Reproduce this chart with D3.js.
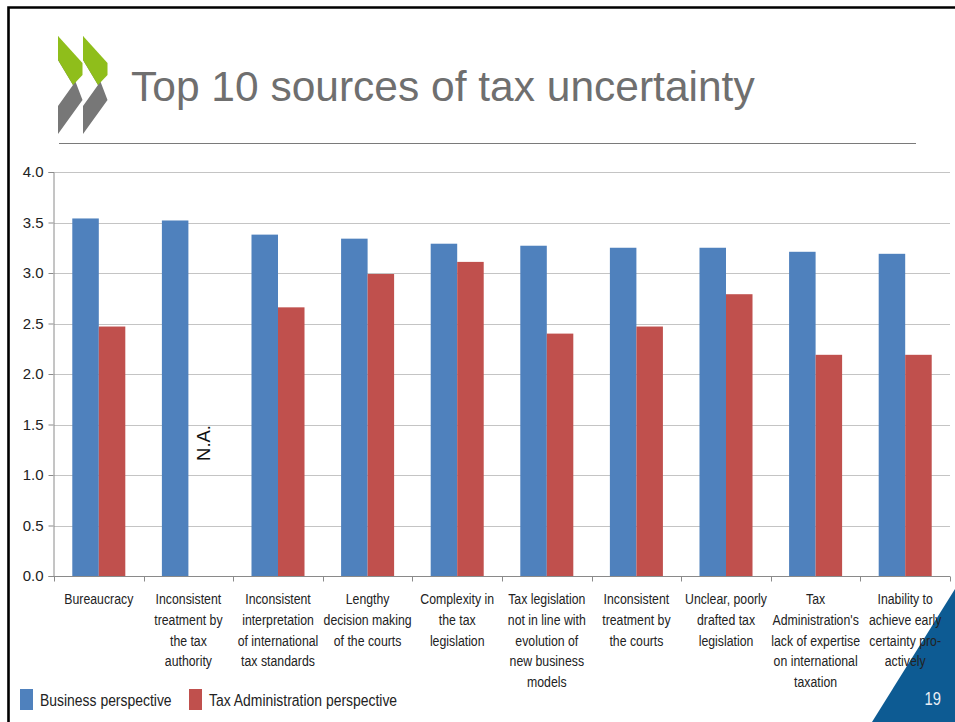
<!DOCTYPE html>
<html>
<head>
<meta charset="utf-8">
<script src="https://cdn.jsdelivr.net/npm/d3@7"></script>
<style>
  html, body { margin: 0; padding: 0; background: #ffffff; }
  svg { display: block; }
</style>
</head>
<body>
<svg id="slide" width="955" height="722"></svg>
<script>
// Survey scores (0-4) for the top 10 sources of tax uncertainty
const categories = [
  "Bureaucracy",
  "Inconsistent\ntreatment by\nthe tax\nauthority",
  "Inconsistent\ninterpretation\nof international\ntax standards",
  "Lengthy\ndecision making\nof the courts",
  "Complexity in\nthe tax\nlegislation",
  "Tax legislation\nnot in line with\nevolution of\nnew business\nmodels",
  "Inconsistent\ntreatment by\nthe courts",
  "Unclear, poorly\ndrafted tax\nlegislation",
  "Tax\nAdministration's\nlack of expertise\non international\ntaxation",
  "Inability to\nachieve early\ncertainty pro-\nactively"
];
const seriesNames = ["Business perspective", "Tax Administration perspective"];
const businessValues = [3.54, 3.52, 3.38, 3.34, 3.29, 3.27, 3.25, 3.25, 3.21, 3.19];
// null = not available (no tax administration score for that item)
const taxAdminValues = [2.47, null, 2.66, 2.99, 3.11, 2.40, 2.47, 2.79, 2.19, 2.19];
const yTicks = [0.0, 0.5, 1.0, 1.5, 2.0, 2.5, 3.0, 3.5, 4.0];
const colors = ["#4f81bd", "#c0504d"];
const naLabel = "N.A.";
const titleText = "Top 10 sources of tax uncertainty";
const pageNumber = "19";

const SANS = "'Liberation Sans', Arial, sans-serif";
const NARROW = 0.82; // horizontal squeeze for the condensed body text

const svg = d3.select("#slide");

// Condensed text helper: places a (possibly multi-line) label squeezed horizontally
function narrowText(parent, px, py, lines, size, anchor, fill, lineGap) {
  const t = parent.append("text")
    .attr("transform", `translate(${px},${py}) scale(${NARROW},1)`)
    .attr("text-anchor", anchor)
    .attr("font-family", SANS)
    .attr("font-size", size)
    .attr("fill", fill);
  lines.forEach((line, k) => {
    t.append("tspan")
      .attr("x", 0)
      .attr("dy", k === 0 ? 0 : lineGap)
      .text(line);
  });
  return t;
}

// Corner accent triangle (behind everything)
svg.append("path")
  .attr("d", "M872,722 L955,589 L955,722 Z")
  .attr("fill", "#0d5b93");

// Slide frame (left and top edges visible)
svg.append("path")
  .attr("d", "M8.5,722 L8.5,7.5 L955,7.5")
  .attr("fill", "none")
  .attr("stroke", "#000")
  .attr("stroke-width", 2.6);

// Double-chevron logo: green upper arm, grey lower arm
function chevron(x0) {
  const x1 = x0 + 24.5;
  const g = svg.append("g");
  g.append("path")
    .attr("d", `M${x0},36 L${x1},100 L${x0},134 L${x0},106 L${x0 + 15},85 L${x0},60 Z`)
    .attr("fill", "#777777");
  g.append("path")
    .attr("d", `M${x0},36 L${x1},63 L${x1},75 L${x0 + 15},85 L${x0},60 Z`)
    .attr("fill", "#8fbe1b");
}
chevron(58);
chevron(83);

svg.append("text")
  .attr("x", 131)
  .attr("y", 101)
  .attr("font-family", SANS)
  .attr("font-size", 42.5)
  .attr("fill", "#6f6f6f")
  .text(titleText);

svg.append("line")
  .attr("x1", 59).attr("x2", 916)
  .attr("y1", 143.5).attr("y2", 143.5)
  .attr("stroke", "#7a7a7a").attr("stroke-width", 1);

// Chart
const x = d3.scaleBand().domain(d3.range(categories.length)).range([54, 950]).padding(0);
const xSub = d3.scaleBand().domain(seriesNames).range([0, x.bandwidth()]).paddingInner(0).paddingOuter(0.69);
const y = d3.scaleLinear().domain([0, 4]).range([576, 172]);

// Gridlines
svg.append("g")
  .selectAll("line")
  .data(yTicks.filter(t => t > 0))
  .join("line")
  .attr("x1", 54).attr("x2", 950)
  .attr("y1", d => Math.round(y(d)) + 0.5).attr("y2", d => Math.round(y(d)) + 0.5)
  .attr("stroke", "#c4c4c4").attr("stroke-width", 1.2);

// Bars
const rows = categories.map((c, i) => ({ i, vals: [businessValues[i], taxAdminValues[i]] }));
const groups = svg.append("g").selectAll("g")
  .data(rows)
  .join("g")
  .attr("transform", d => `translate(${x(d.i)},0)`);
groups.selectAll("rect")
  .data(d => d.vals.map((v, k) => ({ v, k })).filter(e => e.v !== null))
  .join("rect")
  .attr("x", e => xSub(seriesNames[e.k]))
  .attr("width", xSub.bandwidth())
  .attr("y", e => y(e.v))
  .attr("height", e => y(0) - y(e.v))
  .attr("fill", e => colors[e.k]);

// N.A. marker for the missing value
const naIdx = taxAdminValues.findIndex(v => v === null);
const naX = x(naIdx) + xSub(seriesNames[1]) + xSub.bandwidth() / 2 + 8;
svg.append("text")
  .attr("transform", `translate(${naX},443) rotate(-90)`)
  .attr("text-anchor", "middle")
  .attr("font-family", SANS)
  .attr("font-size", 18.5)
  .attr("fill", "#111")
  .text(naLabel);

// Y axis
const yAxis = svg.append("g")
  .attr("transform", "translate(53.5,0)")
  .call(d3.axisLeft(y).tickValues(yTicks).tickFormat(d3.format(".1f")).tickSize(5).tickPadding(5));
yAxis.select(".domain").attr("stroke", "#8a8a8a");
yAxis.selectAll(".tick line").attr("stroke", "#8a8a8a");
yAxis.selectAll(".tick text")
  .attr("font-family", SANS)
  .attr("font-size", 15)
  .attr("fill", "#222");

// X axis with category boundary ticks
const xAxisG = svg.append("g").attr("transform", "translate(0,576.5)");
xAxisG.append("line")
  .attr("x1", 53.5).attr("x2", 950)
  .attr("stroke", "#8a8a8a");
xAxisG.selectAll("line.tick")
  .data(d3.range(categories.length + 1))
  .join("line")
  .attr("class", "tick")
  .attr("x1", i => Math.round(54 + i * x.step()) + 0.5)
  .attr("x2", i => Math.round(54 + i * x.step()) + 0.5)
  .attr("y1", 0).attr("y2", 5)
  .attr("stroke", "#8a8a8a");

// Category labels
const labels = svg.append("g");
categories.forEach((c, i) => {
  narrowText(labels, x(i) + x.bandwidth() / 2, 604, c.split("\n"), 15, "middle", "#222", 20.8);
});

// Legend
const legendPos = [20, 189];
const legend = svg.append("g");
seriesNames.forEach((name, k) => {
  legend.append("rect")
    .attr("x", legendPos[k]).attr("y", 689)
    .attr("width", 13).attr("height", 21)
    .attr("fill", colors[k]);
  narrowText(legend, legendPos[k] + 20, 706, [name], 17, "start", "#222", 0);
});

// Slide number
narrowText(svg, 941, 705, [pageNumber], 18, "end", "#e8eef5", 0);
</script>
</body>
</html>
